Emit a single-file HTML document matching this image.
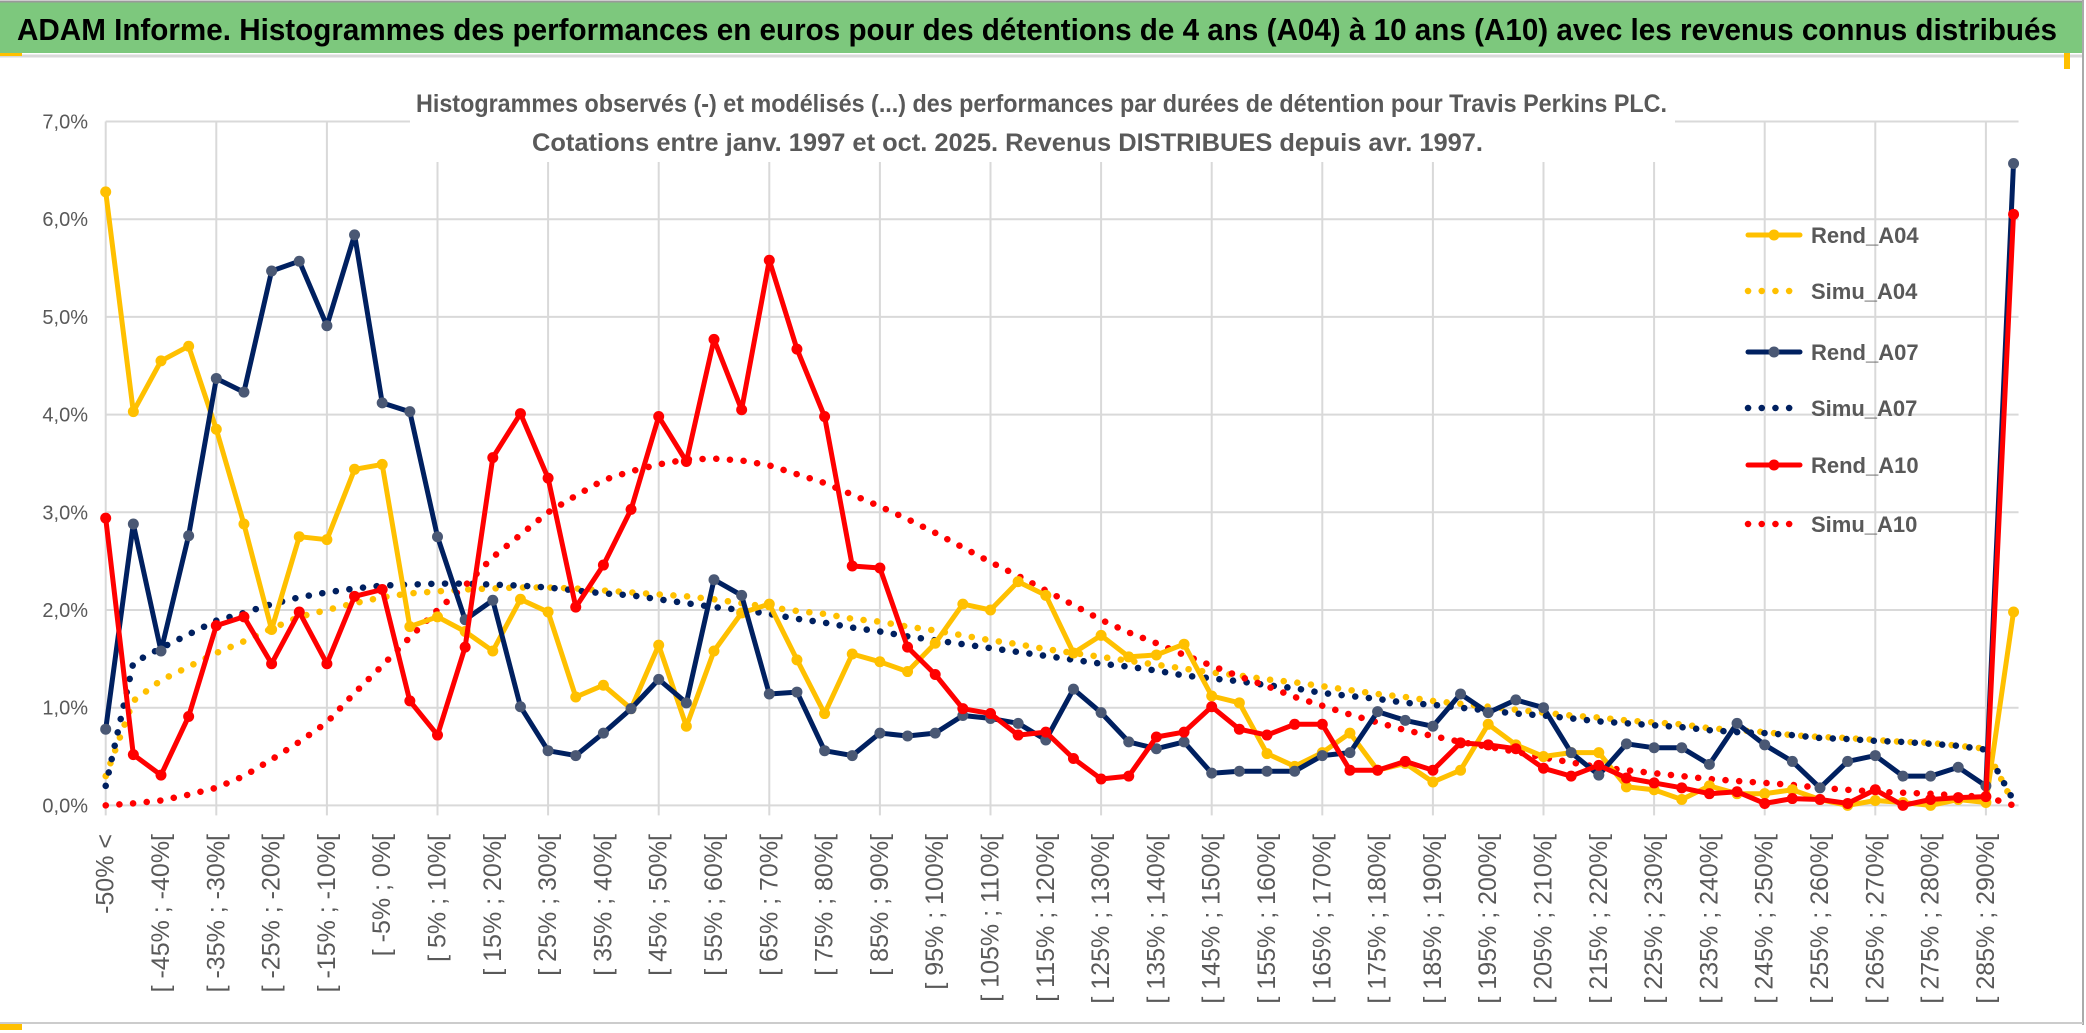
<!DOCTYPE html>
<html><head><meta charset="utf-8">
<style>
html,body{margin:0;padding:0;background:#fff;}
svg{display:block;font-family:"Liberation Sans",sans-serif;}
</style></head>
<body>
<svg id="chart" width="2086" height="1033" viewBox="0 0 2086 1033" xmlns="http://www.w3.org/2000/svg">
<rect x="0" y="0" width="2086" height="1033" fill="#fff"/>
<rect x="0" y="2" width="2083" height="51" fill="#7DC87D"/>
<line x1="0" y1="1.5" x2="2083" y2="1.5" stroke="#999" stroke-width="2"/>
<line x1="0" y1="56" x2="2083" y2="56" stroke="#d9d9d9" stroke-width="3"/>
<line x1="2083" y1="0" x2="2083" y2="1025" stroke="#aaa" stroke-width="2"/>
<line x1="0" y1="1023" x2="2083" y2="1023" stroke="#ccc" stroke-width="2"/>
<rect x="0" y="53" width="22" height="3" fill="#FFC000"/>
<rect x="0" y="1024" width="22" height="6" fill="#FFC000"/>
<rect x="2064" y="53" width="6" height="16" fill="#FFC000"/>
<text x="17" y="40" font-size="31" font-weight="bold" fill="#000" textLength="2040" lengthAdjust="spacingAndGlyphs">ADAM Informe. Histogrammes des performances en euros pour des détentions de 4 ans (A04) à 10 ans (A10) avec les revenus connus distribués</text>
<g id="grid"></g>
<g id="yaxis"></g>
<g id="xaxis"></g>
<rect x="410" y="78" width="1265" height="84" fill="#fff"/>
<text x="416" y="112" font-size="25" font-weight="bold" fill="#595959" textLength="1251" lengthAdjust="spacingAndGlyphs">Histogrammes observés (-) et modélisés (...) des performances par durées de détention pour Travis Perkins PLC.</text>
<text x="532" y="151" font-size="25" font-weight="bold" fill="#595959" textLength="951" lengthAdjust="spacingAndGlyphs">Cotations entre janv. 1997 et oct. 2025. Revenus DISTRIBUES depuis avr. 1997.</text>
<g id="series"></g>
<g id="legend"></g>
</svg>
<script>
const rendA04 = [6.28,4.03,4.55,4.70,3.85,2.88,1.80,2.75,2.72,3.44,3.49,1.83,1.93,1.78,1.58,2.11,1.98,1.11,1.23,0.99,1.64,0.81,1.58,1.97,2.06,1.49,0.94,1.55,1.47,1.37,1.66,2.06,2.00,2.29,2.15,1.56,1.74,1.52,1.54,1.65,1.12,1.05,0.53,0.40,0.54,0.74,0.36,0.43,0.24,0.36,0.83,0.62,0.50,0.54,0.54,0.19,0.16,0.06,0.20,0.12,0.12,0.16,0.06,0.00,0.05,0.03,0.00,0.06,0.03,1.98];
const rendA07 = [0.78,2.88,1.58,2.76,4.37,4.23,5.47,5.57,4.91,5.84,4.12,4.03,2.75,1.90,2.10,1.01,0.56,0.51,0.74,0.99,1.29,1.05,2.31,2.15,1.14,1.16,0.56,0.51,0.74,0.71,0.74,0.92,0.89,0.84,0.67,1.19,0.95,0.65,0.58,0.65,0.33,0.35,0.35,0.35,0.51,0.54,0.96,0.87,0.81,1.14,0.95,1.08,1.00,0.54,0.31,0.63,0.59,0.59,0.42,0.84,0.62,0.45,0.18,0.45,0.51,0.30,0.30,0.39,0.20,6.57];
const rendA10 = [2.94,0.52,0.31,0.91,1.84,1.93,1.45,1.98,1.45,2.14,2.21,1.07,0.72,1.62,3.56,4.01,3.35,2.03,2.46,3.03,3.98,3.52,4.77,4.05,5.58,4.67,3.98,2.45,2.43,1.62,1.34,0.99,0.94,0.72,0.75,0.48,0.27,0.30,0.70,0.75,1.01,0.78,0.72,0.83,0.83,0.36,0.36,0.45,0.36,0.64,0.62,0.58,0.38,0.30,0.41,0.28,0.23,0.18,0.12,0.14,0.02,0.07,0.06,0.02,0.16,0.00,0.06,0.08,0.09,6.05];
const simuA04 = [0.30,1.07,1.28,1.42,1.56,1.68,1.81,1.93,2.00,2.07,2.13,2.17,2.19,2.21,2.22,2.23,2.23,2.22,2.20,2.18,2.16,2.14,2.11,2.07,2.03,1.99,1.96,1.91,1.88,1.83,1.79,1.74,1.69,1.65,1.60,1.56,1.52,1.48,1.44,1.40,1.36,1.33,1.29,1.26,1.22,1.18,1.14,1.11,1.07,1.04,1.01,0.98,0.95,0.92,0.90,0.87,0.85,0.83,0.79,0.77,0.75,0.72,0.70,0.69,0.67,0.65,0.64,0.61,0.58,0.02];
const simuA07 = [0.20,1.46,1.61,1.75,1.89,1.97,2.06,2.13,2.18,2.22,2.25,2.26,2.27,2.27,2.26,2.25,2.23,2.20,2.17,2.15,2.11,2.07,2.03,2.00,1.96,1.91,1.87,1.82,1.78,1.73,1.69,1.65,1.61,1.57,1.53,1.49,1.45,1.42,1.38,1.33,1.30,1.27,1.23,1.20,1.15,1.12,1.09,1.05,1.03,1.00,0.97,0.94,0.92,0.89,0.86,0.84,0.82,0.80,0.77,0.75,0.74,0.72,0.69,0.68,0.66,0.65,0.63,0.61,0.57,0.05];
const simuA10 = [0.00,0.02,0.05,0.11,0.18,0.30,0.47,0.65,0.85,1.15,1.43,1.72,2.00,2.25,2.54,2.77,3.00,3.17,3.33,3.42,3.49,3.54,3.55,3.53,3.48,3.39,3.30,3.18,3.06,2.93,2.79,2.64,2.49,2.35,2.20,2.05,1.90,1.77,1.66,1.54,1.43,1.32,1.22,1.11,1.02,0.93,0.85,0.77,0.71,0.65,0.60,0.55,0.49,0.44,0.39,0.36,0.33,0.30,0.27,0.25,0.23,0.21,0.18,0.16,0.14,0.13,0.12,0.10,0.09,0.00];
const yTicks = [0,1,2,3,4,5,6,7];
const seriesNames = ["Rend_A04","Simu_A04","Rend_A07","Simu_A07","Rend_A10","Simu_A10"];

const NS = "http://www.w3.org/2000/svg";
const N = rendA04.length;
const X0 = 105.7, STEP = 27.65, Y0 = 805.4, YPX = 97.7;
function xs(i){ return X0 + STEP * i; }
function ys(v){ return Y0 - YPX * v; }
function mk(tag, attrs, parent){
  const e = document.createElementNS(NS, tag);
  for (const k in attrs) e.setAttribute(k, attrs[k]);
  parent.appendChild(e);
  return e;
}
function catLabel(i){
  if (i === 0) return "-50% <";
  const a = -50 + 5 * (i - 1);
  return "[ " + a + "% ; " + (a + 5) + "%[";
}
const grid = document.getElementById('grid');
const xRight = xs(N - 1) + 5;
yTicks.forEach(t => {
  const l = mk('line', {x1: X0, x2: xRight, y1: ys(t), y2: ys(t), stroke: '#d9d9d9', 'stroke-width': 2}, grid);
  
  
});
for (let i = 0; i < N - 1; i += 4) {
  const l = mk('line', {x1: xs(i), x2: xs(i), y1: ys(7), y2: ys(0) + 10, stroke: '#d9d9d9', 'stroke-width': 2}, grid);
  
  
}
const yaxis = document.getElementById('yaxis');
yTicks.forEach(t => {
  const tx = mk('text', {x: 88, y: ys(t) + 7, 'text-anchor': 'end', 'font-size': 20, fill: '#595959'}, yaxis);
  tx.textContent = t.toFixed(1).replace('.', ',') + '%';
  
  
});
const xaxis = document.getElementById('xaxis');
for (let i = 0; i < N; i += 2) {
  const x = xs(i) + 8, y = 834;
  const tx = mk('text', {x: x, y: y, 'text-anchor': 'end', 'font-size': 25, fill: '#595959', transform: 'rotate(-90 ' + x + ' ' + y + ')'}, xaxis);
  tx.textContent = catLabel(i);
  
  
}
const ser = document.getElementById('series');
function pts(arr){ return arr.map((v, i) => xs(i).toFixed(1) + ',' + ys(v).toFixed(1)).join(' '); }
function dotted(arr, color, name){
  const p = mk('polyline', {points: pts(arr), fill: 'none', stroke: color, 'stroke-width': 6.5, 'stroke-linecap': 'round', 'stroke-dasharray': '0.1 13.6'}, ser);
  
  
}
function solid(arr, color, mcol, name){
  const p = mk('polyline', {points: pts(arr), fill: 'none', stroke: color, 'stroke-width': 5, 'stroke-linejoin': 'round'}, ser);
  
  
  arr.forEach((v, i) => {
    const c = mk('circle', {cx: xs(i), cy: ys(v), r: 5.5, fill: mcol}, ser);
    
    
  });
}
dotted(simuA04, '#FFC000', 'simu-a04-line');
dotted(simuA07, '#002060', 'simu-a07-line');
dotted(simuA10, '#FF0000', 'simu-a10-line');
solid(rendA04, '#FFC000', '#FFC000', 'rend-a04-line');
solid(rendA07, '#002060', '#4A5874', 'rend-a07-line');
solid(rendA10, '#FF0000', '#FF0000', 'rend-a10-line');

const leg = document.getElementById('legend');
const legColors = ['#FFC000','#FFC000','#002060','#002060','#FF0000','#FF0000'];
const legY = [235, 291, 352, 408, 465, 524];
seriesNames.forEach((n, k) => {
  const g = mk('g', {}, leg);
  
  
  const dotted = n.startsWith('Simu');
  const attrs = {x1: 1748, x2: 1800, y1: legY[k], y2: legY[k], stroke: legColors[k], 'stroke-width': dotted ? 6.5 : 5, 'stroke-linecap': 'round'};
  if (dotted) attrs['stroke-dasharray'] = '0.1 13.6';
  mk('line', attrs, g);
  if (!dotted) mk('circle', {cx: 1774, cy: legY[k], r: 5.5, fill: k === 2 ? '#4A5874' : legColors[k]}, g);
  const t = mk('text', {x: 1811, y: legY[k] + 8, 'font-size': 22, 'font-weight': 'bold', fill: '#595959'}, g);
  t.textContent = n;
});
</script>
</body></html>
